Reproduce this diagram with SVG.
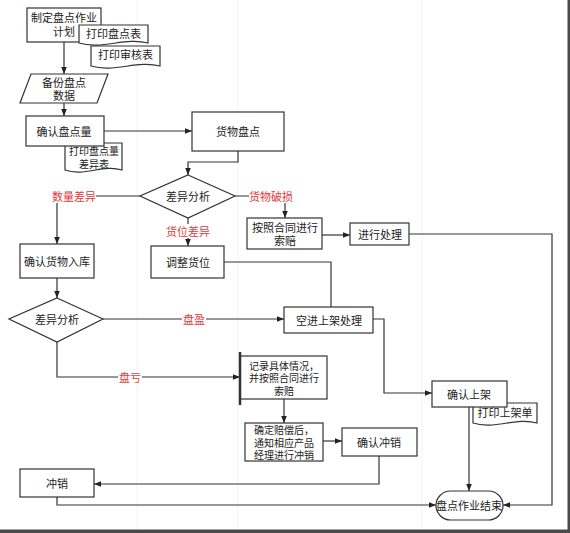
<svg xmlns="http://www.w3.org/2000/svg" width="570" height="533" viewBox="0 0 570 533">
<defs>
<marker id="ah" viewBox="0 0 10 10" refX="10" refY="5" markerWidth="7" markerHeight="7" markerUnits="userSpaceOnUse" orient="auto">
<path d="M0,1 L10,5 L0,9 Z" fill="#222"/>
</marker>
<style>
.box{fill:#fff;stroke:#333;stroke-width:1.2}
.t{font-family:"Noto Sans CJK SC","Liberation Sans",sans-serif;font-size:11px;fill:#222;text-anchor:middle;dominant-baseline:central}
.s{font-size:10px}
.r{font-family:"Noto Sans CJK SC","Liberation Sans",sans-serif;font-size:11px;fill:#e03a3a;text-anchor:middle;dominant-baseline:central}
.c{fill:none;stroke:#333;stroke-width:1.2}
.g{stroke:#f3f3f3;stroke-width:1}
</style>
</defs>
<rect width="570" height="533" fill="#fff"/>
<g id="guides">
<line class="g" x1="137" y1="0" x2="137" y2="529"/>
<line class="g" x1="238" y1="0" x2="238" y2="529"/>
<line class="g" x1="422" y1="0" x2="422" y2="529"/>
</g>
<g id="connectors">
<path class="c" d="M64,42 V74" marker-end="url(#ah)"/>
<path class="c" d="M64,103 V116" marker-end="url(#ah)"/>
<path class="c" d="M104,131 H192" marker-end="url(#ah)"/>
<path class="c" d="M238,151 V162 H188 V175" marker-end="url(#ah)"/>
<path class="c" d="M140,196 H57 V244" marker-end="url(#ah)"/>
<path class="c" d="M188,218 V246" marker-end="url(#ah)"/>
<path class="c" d="M235,196 H285 V218" marker-end="url(#ah)"/>
<path class="c" d="M322,235 H350" marker-end="url(#ah)"/>
<path class="c" d="M409,234 H552 V505 H503" marker-end="url(#ah)"/>
<path class="c" d="M224,262 H331 V307"/>
<path class="c" d="M57,278 V298" marker-end="url(#ah)"/>
<path class="c" d="M103,319 H284" marker-end="url(#ah)"/>
<path class="c" d="M57,342 V377 H240" marker-end="url(#ah)"/>
<path class="c" d="M373,319 H384 V393 H432" marker-end="url(#ah)"/>
<path class="c" d="M284,399 V423" marker-end="url(#ah)"/>
<path class="c" d="M323,441 H342" marker-end="url(#ah)"/>
<path class="c" d="M379,456 V484 H94" marker-end="url(#ah)"/>
<path class="c" d="M57,497 V505 H436" marker-end="url(#ah)"/>
<path class="c" d="M469,407 V491" marker-end="url(#ah)"/>
<rect x="52" y="189" width="44" height="14" fill="#fff"/>
<text class="r" x="74" y="196">数量差异</text>
<rect x="166" y="224" width="44" height="14" fill="#fff"/>
<text class="r" x="188" y="231">货位差异</text>
<rect x="249" y="189" width="44" height="14" fill="#fff"/>
<text class="r" x="271" y="196">货物破损</text>
<rect x="182" y="312" width="24" height="14" fill="#fff"/>
<text class="r" x="194" y="319">盘盈</text>
<rect x="118" y="370" width="24" height="14" fill="#fff"/>
<text class="r" x="130" y="377">盘亏</text>
</g>
<g id="n-plan">
<rect class="box" x="27" y="8" width="74" height="34"/>
<text class="t" x="64" y="17">制定盘点作业</text>
<text class="t" x="64" y="31">计划</text>
</g>
<g id="n-print-audit">
<path class="box" d="M91,46 H160 V66 C137,60 114,73 91,66 Z"/>
<text class="t" x="125.5" y="54">打印审核表</text>
</g>
<g id="n-print-count">
<path class="box" d="M79,25 H148 V43 C125,37 102,50 79,43 Z"/>
<text class="t" x="113.5" y="33">打印盘点表</text>
</g>
<g id="n-backup">
<path class="box" d="M31,74 H108 L97,103 H20 Z"/>
<text class="t" x="64" y="82">备份盘点</text>
<text class="t" x="64" y="95">数据</text>
</g>
<g id="n-print-diff">
<path class="box" d="M65,143 H122 V170 C103,164 84,177 65,170 Z"/>
<text class="t s" x="94" y="150">打印盘点量</text>
<text class="t s" x="94" y="163">差异表</text>
</g>
<g id="n-confirm-count">
<rect class="box" x="26" y="116" width="78" height="30"/>
<text class="t" x="64" y="131">确认盘点量</text>
</g>
<g id="n-goods-count">
<rect class="box" x="192" y="112" width="92" height="39"/>
<text class="t" x="238" y="131">货物盘点</text>
</g>
<g id="n-diff1">
<path class="box" d="M188,175 L235,196 L188,218 L140,196 Z"/>
<text class="t" x="188" y="196">差异分析</text>
</g>
<g id="n-claim">
<rect class="box" x="247" y="218" width="75" height="31"/>
<text class="t" x="285" y="227">按照合同进行</text>
<text class="t" x="285" y="240">索赔</text>
</g>
<g id="n-process">
<rect class="box" x="350" y="223" width="59" height="22"/>
<text class="t" x="380" y="234">进行处理</text>
</g>
<g id="n-confirm-in">
<rect class="box" x="20" y="244" width="74" height="34"/>
<text class="t" x="57" y="261">确认货物入库</text>
</g>
<g id="n-adjust">
<rect class="box" x="151" y="246" width="73" height="32"/>
<text class="t" x="188" y="262">调整货位</text>
</g>
<g id="n-diff2">
<path class="box" d="M57,298 L103,319 L57,342 L9,319 Z"/>
<text class="t" x="57" y="319">差异分析</text>
</g>
<g id="n-shelve-empty">
<rect class="box" x="284" y="307" width="89" height="26"/>
<text class="t" x="329" y="320">空进上架处理</text>
</g>
<g id="n-record">
<rect class="box" x="240" y="356" width="87" height="43"/>
<line x1="240" y1="352" x2="240" y2="405" stroke="#333" stroke-width="2.5"/>
<text class="t s" x="284" y="365">记录具体情况，</text>
<text class="t s" x="284" y="377.5">并按照合同进行</text>
<text class="t s" x="284" y="390">索赔</text>
</g>
<g id="n-compensate">
<rect class="box" x="245" y="423" width="78" height="38"/>
<text class="t s" x="284" y="429.5">确定赔偿后，</text>
<text class="t s" x="284" y="442">通知相应产品</text>
<text class="t s" x="284" y="454.5">经理进行冲销</text>
</g>
<g id="n-confirm-writeoff">
<rect class="box" x="342" y="428" width="75" height="28"/>
<text class="t" x="379" y="442">确认冲销</text>
</g>
<g id="n-print-shelf">
<path class="box" d="M473,403 H537 V423 C516,417 494,430 473,423 Z"/>
<text class="t" x="505" y="412">打印上架单</text>
</g>
<g id="n-confirm-shelf">
<rect class="box" x="432" y="381" width="75" height="26"/>
<text class="t" x="469" y="394">确认上架</text>
</g>
<g id="n-writeoff">
<rect class="box" x="20" y="469" width="74" height="28"/>
<text class="t" x="57" y="483">冲销</text>
</g>
<g id="n-end">
<rect class="box" x="436" y="491" width="67" height="29" rx="14.5" ry="14.5"/>
<text class="t" x="469" y="505">盘点作业结束</text>
</g>
<g id="frame">
<rect x="567.5" y="0" width="2.5" height="533" fill="#4a4a4a"/>
<rect x="0" y="529.5" width="570" height="3.5" fill="#4a4a4a"/>
</g>
</svg>
